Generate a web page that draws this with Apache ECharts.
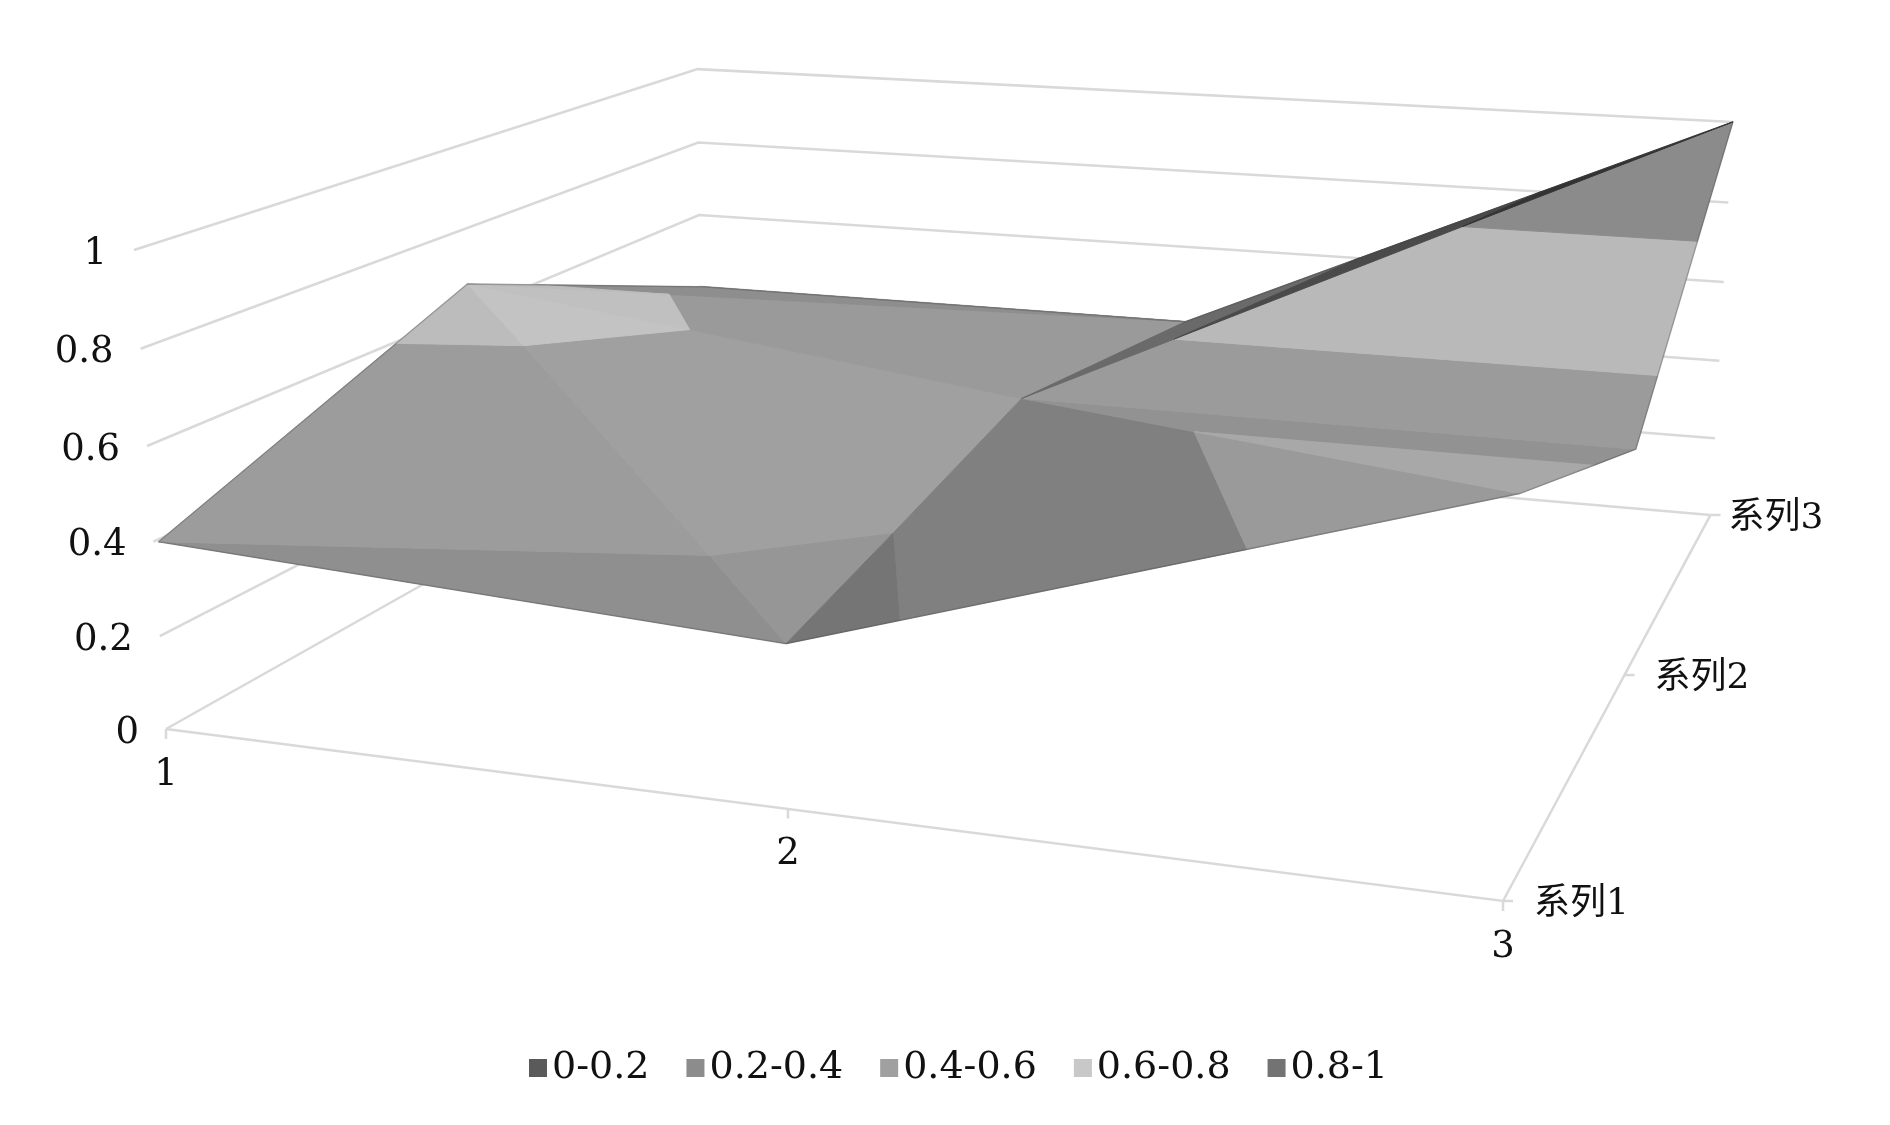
<!DOCTYPE html>
<html>
<head>
<meta charset="utf-8">
<style>html,body{margin:0;padding:0;background:#fff}#c{width:1890px;height:1125px}</style>
<script src="https://cdn.jsdelivr.net/npm/echarts@6/dist/echarts.min.js"></script>
</head>
<body>
<div id="c"></div>
<script>
// ---- data ----
const categories = ['1', '2', '3'];
const seriesNames = ['系列1', '系列2', '系列3'];
const zTicks = [0, 0.2, 0.4, 0.6, 0.8, 1];
const zTickLabels = ['0', '0.2', '0.4', '0.6', '0.8', '1'];
const series1 = [0.40, 0.33, 0.745];
const series2 = [0.67, 0.50, 0.50];
const series3 = [0.40, 0.40, 1.00];
const bandNames = ['0-0.2', '0.2-0.4', '0.4-0.6', '0.6-0.8', '0.8-1'];
const bandEdges = [0, 0.2, 0.4, 0.6, 0.8, 1];
const legendColors = ['#5a5a5a', '#8c8c8c', '#a0a0a0', '#c8c8c8', '#737373'];

// surface triangles as [category index, series index] corners, and the grey of each band on that face
const faces = [
  { c: [[0, 1], [0, 0], [1, 0]], g: ['#888', '#8f8f8f', '#9c9c9c', '#bcbcbc', '#888'] },
  { c: [[0, 1], [1, 0], [1, 1]], g: ['#888', '#969696', '#a0a0a0', '#c3c3c3', '#888'] },
  { c: [[0, 1], [1, 1], [1, 2]], g: ['#888', '#8a8a8a', '#9a9a9a', '#c0c0c0', '#888'] },
  { c: [[0, 1], [1, 2], [0, 2]], g: ['#666', '#8a8a8a', '#8e8e8e', '#bcbcbc', '#888'] },
  { c: [[1, 1], [1, 0], [2, 0]], g: ['#666', '#757575', '#808080', '#9a9a9a', '#888'] },
  { c: [[1, 1], [2, 0], [2, 1]], g: ['#666', '#8a8a8a', '#929292', '#a8a8a8', '#888'] },
  { c: [[1, 1], [2, 1], [2, 2]], g: ['#666', '#8a8a8a', '#9b9b9b', '#b9b9b9', '#8b8b8b'] },
  { c: [[1, 1], [2, 2], [1, 2]], g: ['#444', '#444', '#6a6a6a', '#4a4a4a', '#333'] }
];
// outer rim of the surface, as [category index, series index]
const rim = [[0, 0], [0, 1], [0, 2], [1, 2], [2, 2], [2, 1], [2, 0], [1, 0], [0, 0]];

// ---- oblique camera used by the scale below ----
const cam = { X: [166, 1125.7, 782.7, -37], Y: [729, 45.3, -149.8, -488.2], W: [1, -0.1406, 0.3533, -0.037], bend: 7 };
const lineColor = '#d9d9d9';
const textColor = '#111';
const labelFont = '37px "DejaVu Serif","Noto Sans CJK SC"';
const cjkFont = '36px "DejaVu Serif","Noto Sans CJK SC"';
const seriesLabelDx = [31, 30, 18];

const grid = [series1, series2, series3];
const nC = categories.length - 1, nS = seriesNames.length - 1;

function project(cat, ser, z, api, onSurface) {
  const u = cat / nC, v = ser / nS;
  const w = cam.W[0] + cam.W[1] * u + cam.W[2] * v + cam.W[3] * z;
  const x = (cam.X[0] + cam.X[1] * u + cam.X[2] * v + cam.X[3] * z) / w;
  const y = (cam.Y[0] + cam.Y[1] * u + cam.Y[2] * v + cam.Y[3] * z + cam.bend * u * v * z) / w;
  // small lens correction: the wall/floor and the surface drift differently in the source
  const dx = onSurface
    ? (1 - u) * (5 + 10 * u) + 64 * u * (1 - u) * v * (1 - v)
    : 5 * (1 - u) * v * z + 16 * u * (1 - u);
  return api.coord([x + dx, y]);
}

function clipZ(poly, limit, keepAbove) {
  const out = [];
  const inside = p => keepAbove ? p[2] >= limit : p[2] <= limit;
  poly.forEach((p, i) => {
    const q = poly[(i + 1) % poly.length];
    if (inside(p)) out.push(p);
    if (inside(p) !== inside(q)) {
      const t = (limit - p[2]) / (q[2] - p[2]);
      out.push([p[0] + t * (q[0] - p[0]), p[1] + t * (q[1] - p[1]), limit]);
    }
  });
  return out;
}

function facePiece(fi, bi) {
  const tri = faces[fi].c.map(([c, s]) => [c, s, grid[s][c]]);
  const above = clipZ(tri, bandEdges[bi], true);
  return above.length ? clipZ(above, bandEdges[bi + 1], false) : [];
}

const bandSeries = bandNames.map((name, bi) => ({
  type: 'custom',
  name,
  coordinateSystem: 'cartesian2d',
  clip: false,
  silent: true,
  z: 3,
  itemStyle: { color: legendColors[bi] },
  data: faces.map((f, fi) => [fi]).filter(d => facePiece(d[0], bi).length >= 3),
  renderItem(params, api) {
    const fi = api.value(0);
    const fill = faces[fi].g[bi];
    return {
      type: 'polygon',
      shape: { points: facePiece(fi, bi).map(p => project(p[0], p[1], p[2], api, true)) },
      style: { fill, stroke: fill, lineWidth: 1 }
    };
  }
}));

const rimSeries = {
  type: 'custom',
  name: 'rim',
  coordinateSystem: 'cartesian2d',
  clip: false,
  silent: true,
  z: 4,
  data: [[0]],
  renderItem(params, api) {
    return {
      type: 'polyline',
      shape: { points: rim.map(([c, s]) => project(c, s, grid[s][c], api, true)) },
      style: { stroke: 'rgba(60,60,60,0.3)', lineWidth: 1.5, fill: null }
    };
  }
};

const frameSeries = {
  type: 'custom',
  name: 'frame',
  coordinateSystem: 'cartesian2d',
  clip: false,
  silent: true,
  z: 1,
  data: [[0]],
  renderItem(params, api) {
    const ch = [];
    const line = (pts, width) => ch.push({
      type: 'polyline', shape: { points: pts },
      style: { stroke: lineColor, lineWidth: width || 2.5, fill: null }
    });
    const text = (t, x, y, align, font) => ch.push({
      type: 'text', x, y,
      style: { text: t, font: font || labelFont, fill: textColor, align, verticalAlign: 'middle' }
    });
    zTicks.forEach((z, i) => {
      const a = project(0, 0, z, api), b = project(0, nS, z, api), c = project(nC, nS, z, api);
      line([a, b, c]);
      text(zTickLabels[i], a[0] - 27, a[1] + 4, 'right');
    });
    const f0 = project(0, 0, 0, api), f1 = project(nC, 0, 0, api), f2 = project(nC, nS, 0, api);
    line([f0, f1, f2]);
    categories.forEach((n, i) => {
      const p = project(i, 0, 0, api);
      line([p, [p[0], p[1] + 10]]);
      text(n, p[0], p[1] + 46, 'center');
    });
    seriesNames.forEach((n, i) => {
      const p = project(nC, i, 0, api);
      line([p, [p[0] + 10, p[1]]]);
      text(n, p[0] + seriesLabelDx[i], p[1] + 4, 'left', cjkFont);
    });
    return { type: 'group', children: ch };
  }
};

const chart = echarts.init(document.getElementById('c'), null, { renderer: 'canvas' });
chart.setOption({
  animation: false,
  backgroundColor: '#ffffff',
  grid: { left: 0, right: 0, top: 0, bottom: 0 },
  xAxis: { type: 'value', min: 0, max: 1890, show: false },
  yAxis: { type: 'value', min: 0, max: 1125, inverse: true, show: false },
  legend: {
    data: bandNames,
    left: 524,
    top: 1044,
    itemWidth: 18,
    itemHeight: 18,
    itemGap: 37,
    icon: 'rect',
    selectedMode: false,
    textStyle: { fontFamily: '"DejaVu Serif"', fontSize: 38, color: textColor }
  },
  series: [frameSeries].concat(bandSeries, [rimSeries])
});
</script>
</body>
</html>
